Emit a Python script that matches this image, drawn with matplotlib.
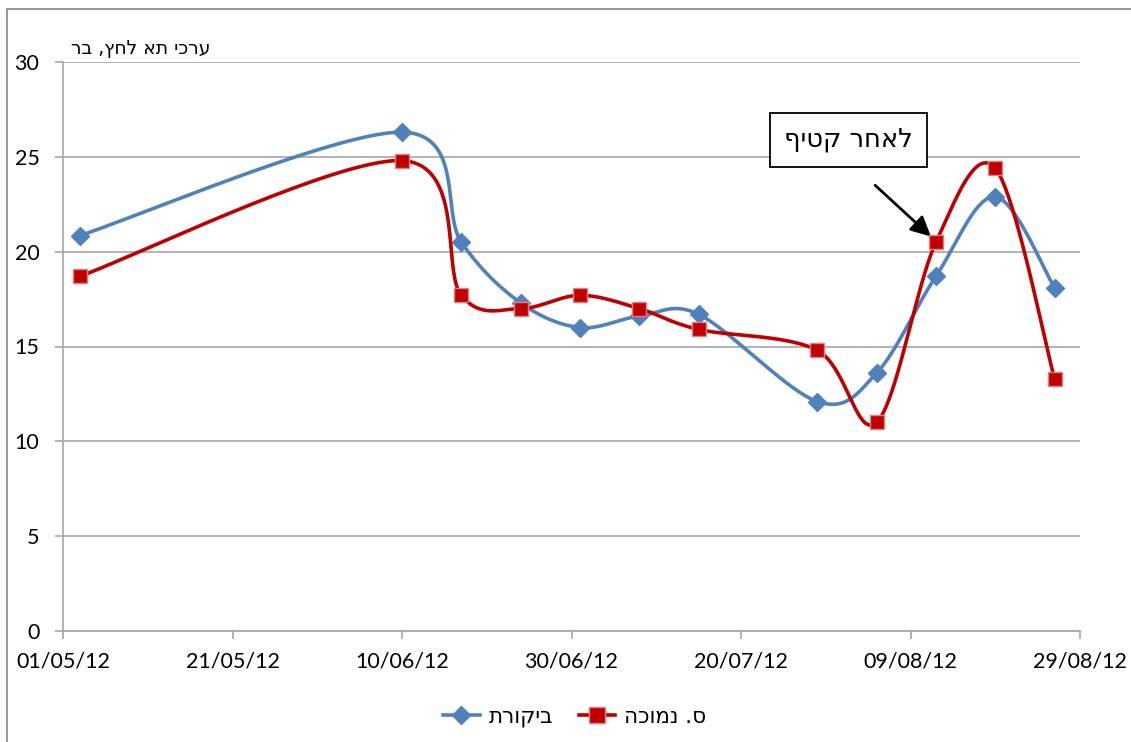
import numpy as np
import matplotlib
matplotlib.use('Agg')
import matplotlib.pyplot as plt
import matplotlib.dates as mdates
from matplotlib.patches import Rectangle
from datetime import datetime

plt.rcParams['font.family'] = ['Lato', 'DejaVu Sans']

# data
dates = ['03/05/12', '10/06/12', '17/06/12', '24/06/12', '01/07/12', '08/07/12',
         '15/07/12', '29/07/12', '05/08/12', '12/08/12', '19/08/12', '26/08/12']
control = [20.85, 26.3, 20.5, 17.3, 16.0, 16.6, 16.7, 12.1, 13.6, 18.7, 22.9, 18.1]
low = [18.7, 24.8, 17.7, 17.0, 17.7, 17.0, 15.9, 14.8, 11.0, 20.5, 24.4, 13.3]
names = ['ביקורת', 'ס. נמוכה']
ylabel = 'ערכי תא לחץ, בר'
note = 'לאחר קטיף'
xticks = ['01/05/12', '21/05/12', '10/06/12', '30/06/12', '20/07/12', '09/08/12', '29/08/12']

x = mdates.date2num([datetime.strptime(d, '%d/%m/%y') for d in dates])
xt = mdates.date2num([datetime.strptime(d, '%d/%m/%y') for d in xticks])


def flip(s):
    # the reference shows the hebrew glyphs in left-to-right order
    return s[::-1]


def smooth(xs, ys, sx=8.475, sy=18.97, n=40):
    # excel-like bezier smoothing, done in screen-ish units
    p = np.column_stack([np.asarray(xs) * sx, np.asarray(ys) * sy])
    out = []
    for i in range(len(p) - 1):
        p0 = p[i - 1] if i > 0 else p[i]
        p1, p2 = p[i], p[i + 1]
        p3 = p[i + 2] if i + 2 < len(p) else p[i + 1]
        d12 = np.linalg.norm(p2 - p1)
        d02 = np.linalg.norm(p2 - p0)
        d13 = np.linalg.norm(p3 - p1)
        f0 = 1 / 6 if d02 / 6 < d12 / 2 else (d12 / 2 / d02 if d02 > 0 else 0)
        f3 = 1 / 6 if d13 / 6 < d12 / 2 else (d12 / 2 / d13 if d13 > 0 else 0)
        c1 = p1 + (p2 - p0) * f0
        c2 = p2 - (p3 - p1) * f3
        t = np.linspace(0, 1, n)[:, None]
        seg = (1 - t) ** 3 * p1 + 3 * (1 - t) ** 2 * t * c1 + 3 * (1 - t) * t ** 2 * c2 + t ** 3 * p2
        out.append(seg if i == 0 else seg[1:])
    out = np.vstack(out)
    return out[:, 0] / sx, out[:, 1] / sy


fig = plt.figure(figsize=(11.31, 7.42), dpi=100)
ax = fig.add_axes([63 / 1131, 1 - 631 / 742, (1080 - 63) / 1131, (631 - 62) / 742])

blue = '#4F81BD'
red = '#C00000'

sx, sy = smooth(x, control)
ax.plot(sx, sy, color=blue, lw=2.6, zorder=3)
ax.plot(x, control, ls='none', marker='D', ms=9, color=blue, zorder=4)
sx, sy = smooth(x, low)
ax.plot(sx, sy, color=red, lw=2.6, zorder=3)
ax.plot(x, low, ls='none', marker='s', ms=10, color=red, mec='#E08080', mew=1, zorder=4)

ax.set_xlim(xt[0], xt[-1])
ax.set_ylim(0, 30)
ax.set_xticks(xt)
ax.set_xticklabels(xticks)
ax.set_yticks(range(0, 31, 5))
ax.grid(axis='y', color='#A6A6A6', lw=1.2)
ax.set_axisbelow(True)
for s in ['top', 'right']:
    ax.spines[s].set_visible(False)
for s in ['left', 'bottom']:
    ax.spines[s].set_color('#A6A6A6')
    ax.spines[s].set_linewidth(1.2)
ax.tick_params(axis='both', colors='#A6A6A6', labelcolor='black', labelsize=15.5,
               length=6, width=1.2)
ax.tick_params(axis='x', pad=9)
ax.tick_params(axis='y', pad=11)

ax.text(0.008, 1.007, flip(ylabel), transform=ax.transAxes, fontsize=13.5,
        family='DejaVu Sans', ha='left', va='bottom')

# legend
hb, = ax.plot([], [], color=blue, lw=2.6, marker='D', ms=9)
hr, = ax.plot([], [], color=red, lw=2.6, marker='s', ms=11, mec='#E08080')
fig.legend([hb, hr], [flip(n) for n in names], loc='center', bbox_to_anchor=(0.508, 1 - 717 / 742),
           ncol=2, frameon=False, prop={'family': 'DejaVu Sans', 'size': 15.5},
           handlelength=1.7, columnspacing=1.2, handletextpad=0.4)

# annotation
ax.annotate(flip(note), xy=(x[9], low[9]), xytext=(mdates.date2num(datetime(2012, 8, 1, 17)), 25.9),
            fontsize=18.5, family='DejaVu Sans', ha='center', va='center',
            bbox=dict(boxstyle='square,pad=0.55', fc='white', ec='black', lw=1.3))
ax.annotate('', xy=(x[9] - 0.35, low[9] + 0.2), xytext=(mdates.date2num(datetime(2012, 8, 4, 14)), 23.6),
            arrowprops=dict(arrowstyle='-|>', color='black', lw=2, mutation_scale=30))

fig.patches.append(Rectangle((7 / 1131, -0.01), 1.01, 1 - 9 / 742 + 0.01, transform=fig.transFigure,
                             fill=False, ec='#888888', lw=1.2))

fig.savefig('out.png', dpi=100)
